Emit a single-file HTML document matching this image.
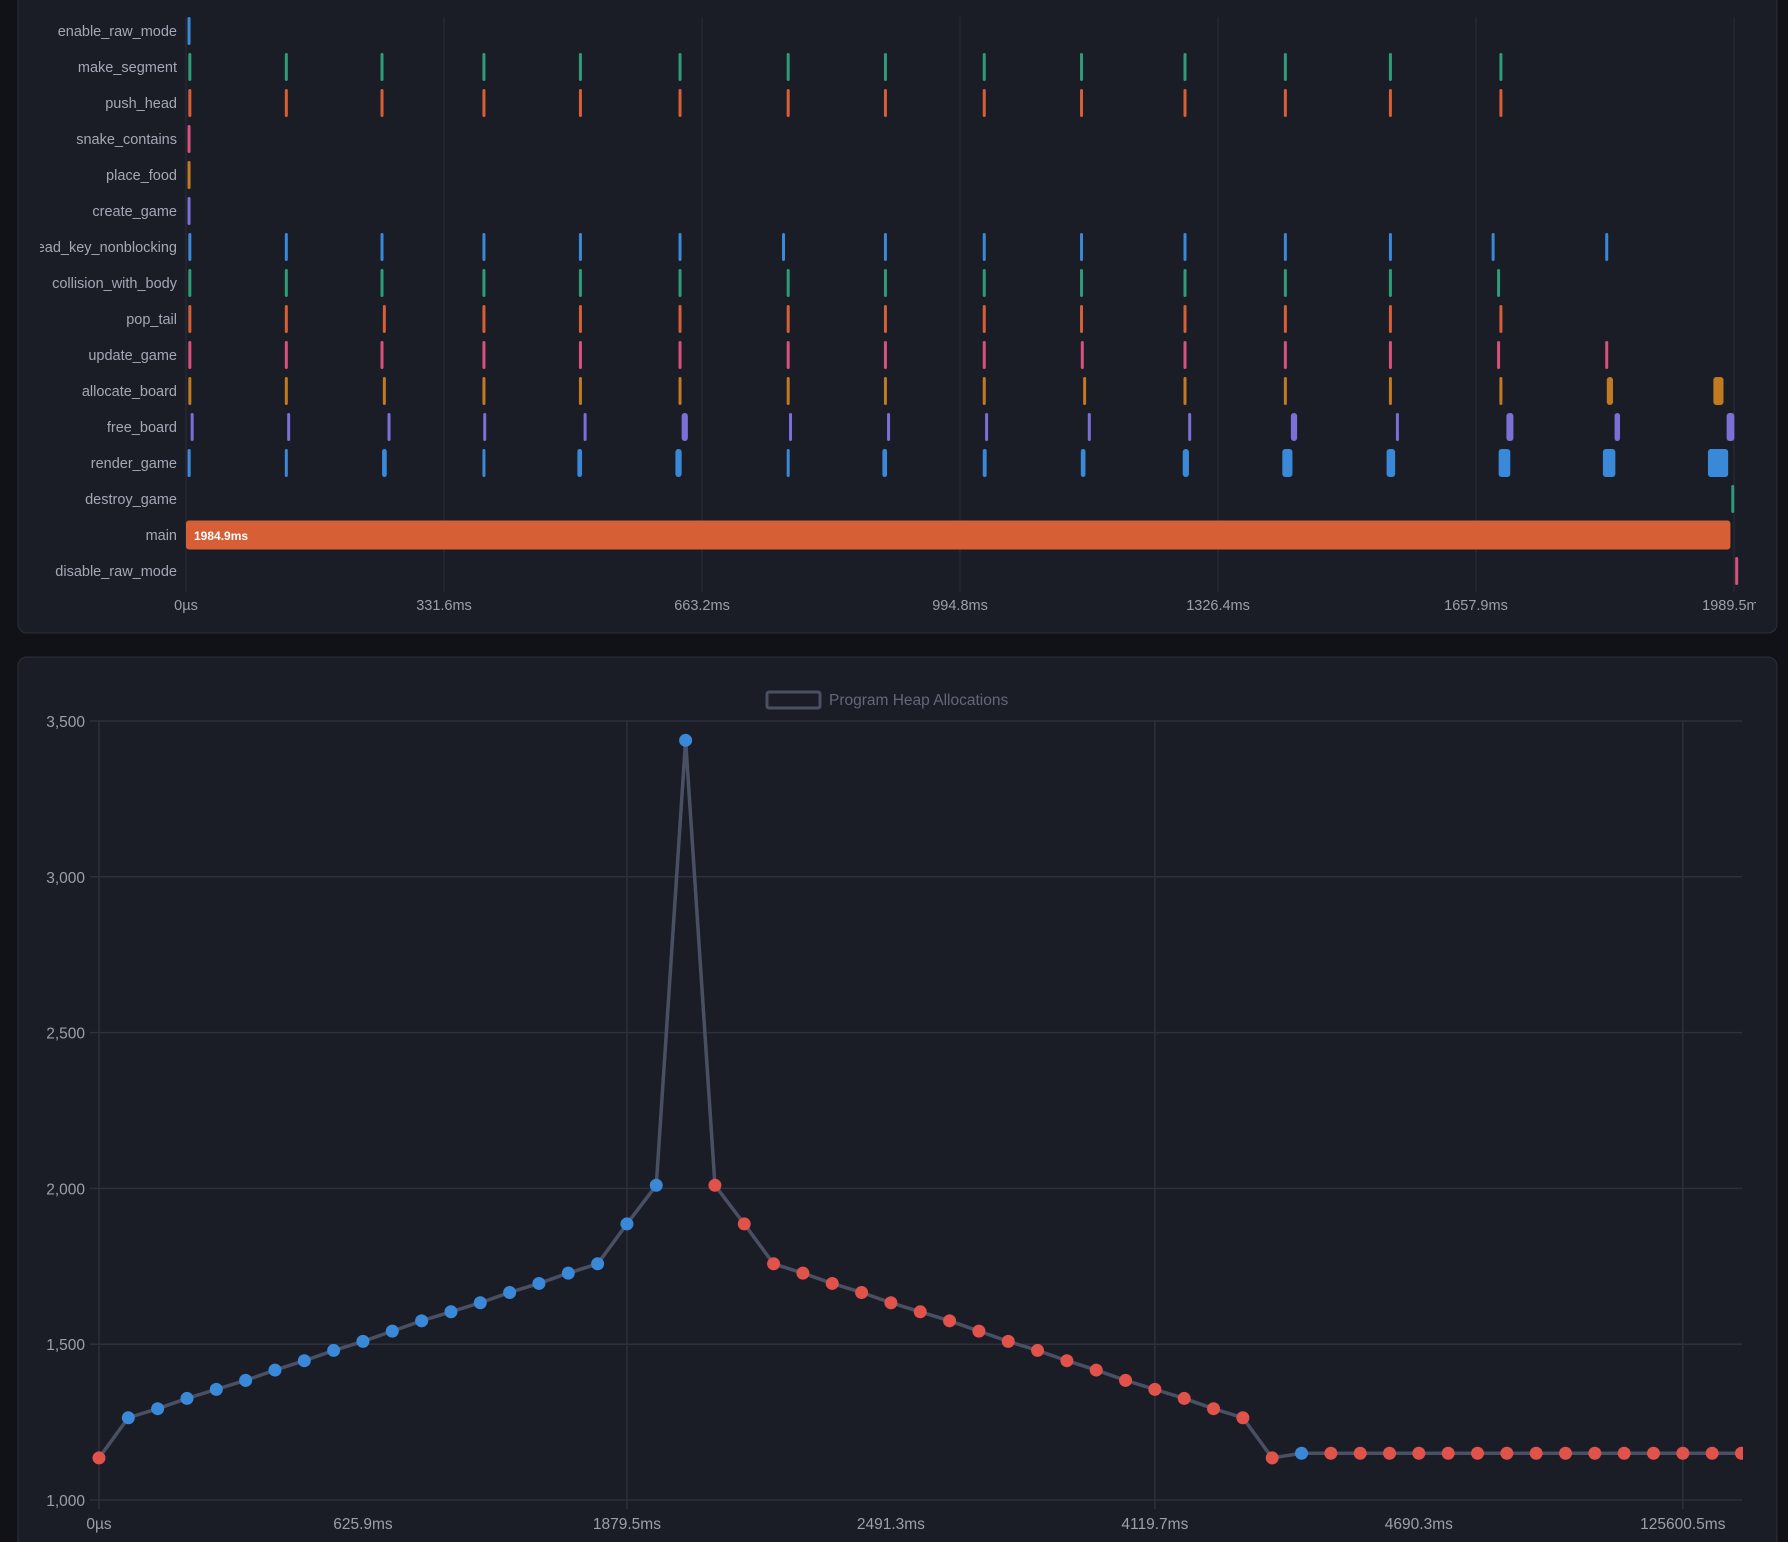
<!DOCTYPE html>
<html><head><meta charset="utf-8"><style>
html,body{margin:0;padding:0;background:#111217;width:1788px;height:1542px;overflow:hidden}
svg{position:absolute;left:0;top:0}
text{font-family:"Liberation Sans",sans-serif}
</style></head><body>
<svg id="s" width="1788" height="1542">
<rect x="18" y="-12" width="1759" height="645" rx="9" fill="#1b1d26" stroke="#2c2f3b"/>
<rect x="18" y="657" width="1759" height="900" rx="9" fill="#1b1d26" stroke="#2c2f3b"/>
<defs><clipPath id="c1"><rect x="40" y="0" width="1716" height="640"/></clipPath><clipPath id="c2"><rect x="90" y="700" width="1653" height="820"/></clipPath></defs>
<g id="tl" clip-path="url(#c1)"></g>
<g id="hc"></g>
<g id="hcp" clip-path="url(#c2)"></g>
</svg>
<script>
// ---- timeline data ----
const rowNames=["enable_raw_mode","make_segment","push_head","snake_contains","place_food","create_game","read_key_nonblocking","collision_with_body","pop_tail","update_game","allocate_board","free_board","render_game","destroy_game","main","disable_raw_mode"];
const rowColors=["#3a89d8","#2e9c78","#d65f35","#d6517d","#c27a22","#7c6fd6","#3a89d8","#2e9c78","#d65f35","#d6517d","#c27a22","#7c6fd6","#3a89d8","#2e9c78","#d65f35","#d6517d"];
const std=[3,127,250,381,505,633,772,897,1024,1149,1282,1411,1546,1688];
const rowStarts=[
[2],std,std,[2],[2],[2],
[3,127,250,381,505,633,766,897,1024,1149,1282,1411,1546,1678,1824],
[3,127,250,381,505,633,772,897,1024,1149,1282,1411,1546,1685],
[3,127,253,381,505,633,772,897,1024,1149,1282,1411,1546,1688],
[3,127,250,381,505,633,772,897,1024,1150,1282,1411,1546,1685,1824],
[3,127,253,381,505,633,772,897,1024,1153,1282,1411,1546,1688,1826,1963],
[6,130,259,382,511,637,775,901,1027,1159,1288,1420,1555,1697,1836,1980],
[2,127,252,381,503,629,772,895,1024,1150,1281,1409,1543,1687,1821,1956],
[1986],[0],[1991]];
const rowDur=[
[2],std.map(()=>2),std.map(()=>2),[2],[2],[2],
[2,2,2,2,2,2,2,2,2,2,2,2,2,2,2],
[2,2,2,2,2,2,2,2,2,2,2,2,2,2],
[2,2,2,2,2,2,2,2,2,2,2,2,2,2],
[2,2,2,2,2,2,2,2,2,2,2,2,2,2,2],
[2,2,2,2,2,2,2,2,2,2,2,3,3,3,8,13],
[3,3,3,3,3,8,3,3,3,3,3,8,3,9,7,10],
[4,3,6,3,6,8,3,6,5,6,8,13,11,15,16,26],
[2],[1984.9],[2]];
const tlTicks=[0,331.6,663.2,994.8,1326.4,1657.9,1989.5];
const tlTickLabels=["0µs","331.6ms","663.2ms","994.8ms","1326.4ms","1657.9ms","1989.5ms"];
// ---- heap data ----
const heapLabels=["0µs","625.9ms","1879.5ms","2491.3ms","4119.7ms","4690.3ms","125600.5ms"];
const heapLabelIdx=[0,9,18,27,36,45,54];
const heapValues=[1135,1264,1293,1326,1355,1384,1417,1447,1480,1509,1542,1575,1604,1633,1666,1695,1728,1758,1886,2010,3438,2010,1886,1758,1728,1695,1666,1633,1604,1575,1542,1509,1480,1447,1417,1384,1355,1326,1293,1264,1135,1150,1150,1150,1150,1150,1150,1150,1150,1150,1150,1150,1150,1150,1150,1150,1150];
const yTicks=[1000,1500,2000,2500,3000,3500];

const NS="http://www.w3.org/2000/svg";
function mk(p,tag,a,txt){const e=document.createElementNS(NS,tag);for(const k in a)e.setAttribute(k,a[k]);if(txt!=null)e.textContent=txt;p.appendChild(e);return e;}
const tl=document.getElementById('tl');
const tx=ms=>186+ms*(1548/1989.5);
const rowY=i=>31+i*36;
tlTicks.forEach((t,i)=>{
  const l=mk(tl,'line',{x1:tx(t),x2:tx(t),y1:17,y2:592,stroke:'#2a2d38','stroke-width':1});
  
  
  const t2=mk(tl,'text',{x:tx(t),y:610,'text-anchor':'middle','font-size':14.5,fill:'#9aa0ab'},tlTickLabels[i]);
  
  
});
rowNames.forEach((n,i)=>{
  const t=mk(tl,'text',{x:177,y:rowY(i)+5,'text-anchor':'end','font-size':14.5,fill:'#a3a8b5'},n);
  
  
  rowStarts[i].forEach((s,j)=>{
    const w=Math.max(3,rowDur[i][j]*(1548/1989.5));
    const h=i===14?29:28;
    const r=mk(tl,'rect',{x:tx(s),y:rowY(i)-h/2,width:w,height:h,rx:Math.min(3,w/2),fill:rowColors[i]});
    
    
  });
});
const ml=mk(tl,'text',{x:194,y:rowY(14)+5,'font-size':12,'font-weight':'bold',fill:'#ffffff'},"1984.9ms");



// heap chart
const hc=document.getElementById('hc'),hcp=document.getElementById('hcp');
const hx=i=>99+i*29.33;
const hy=v=>1500-(v-1000)/2500*779;
yTicks.forEach(v=>{
  const l=mk(hc,'line',{x1:90,x2:1742,y1:hy(v),y2:hy(v),stroke:'#2d303d','stroke-width':1.5});
  
  
  const t=mk(hc,'text',{x:85,y:hy(v)+6,'text-anchor':'end','font-size':15.5,fill:'#9aa0ab'},v.toLocaleString('en-US'));
  
  
});
heapLabelIdx.forEach((idx,k)=>{
  if(k%2===0){const l=mk(hc,'line',{x1:hx(idx),x2:hx(idx),y1:721,y2:1509,stroke:'#2d303d','stroke-width':1.5});
  
  }
  const t=mk(hc,'text',{x:hx(idx),y:1529,'text-anchor':'middle','font-size':15.5,fill:'#9aa0ab'},heapLabels[k]);
  
  
});
const lb=mk(hc,'rect',{x:767,y:692,width:53,height:16,rx:2,fill:'none',stroke:'#4a5063','stroke-width':3});


const lt=mk(hc,'text',{x:829,y:705,'font-size':15.5,fill:'#62677a'},"Program Heap Allocations");


const pl=mk(hcp,'polyline',{points:heapValues.map((v,i)=>hx(i)+','+hy(v)).join(' '),fill:'none',stroke:'#4a5063','stroke-width':3.5,'stroke-linejoin':'round'});


heapValues.forEach((v,i)=>{
  const up=i>0&&v>heapValues[i-1];
  const c=mk(hcp,'circle',{cx:hx(i),cy:hy(v),r:6.5,fill:up?'#3a89d8':'#e0524a'});
  
  
});
</script>
</body></html>
